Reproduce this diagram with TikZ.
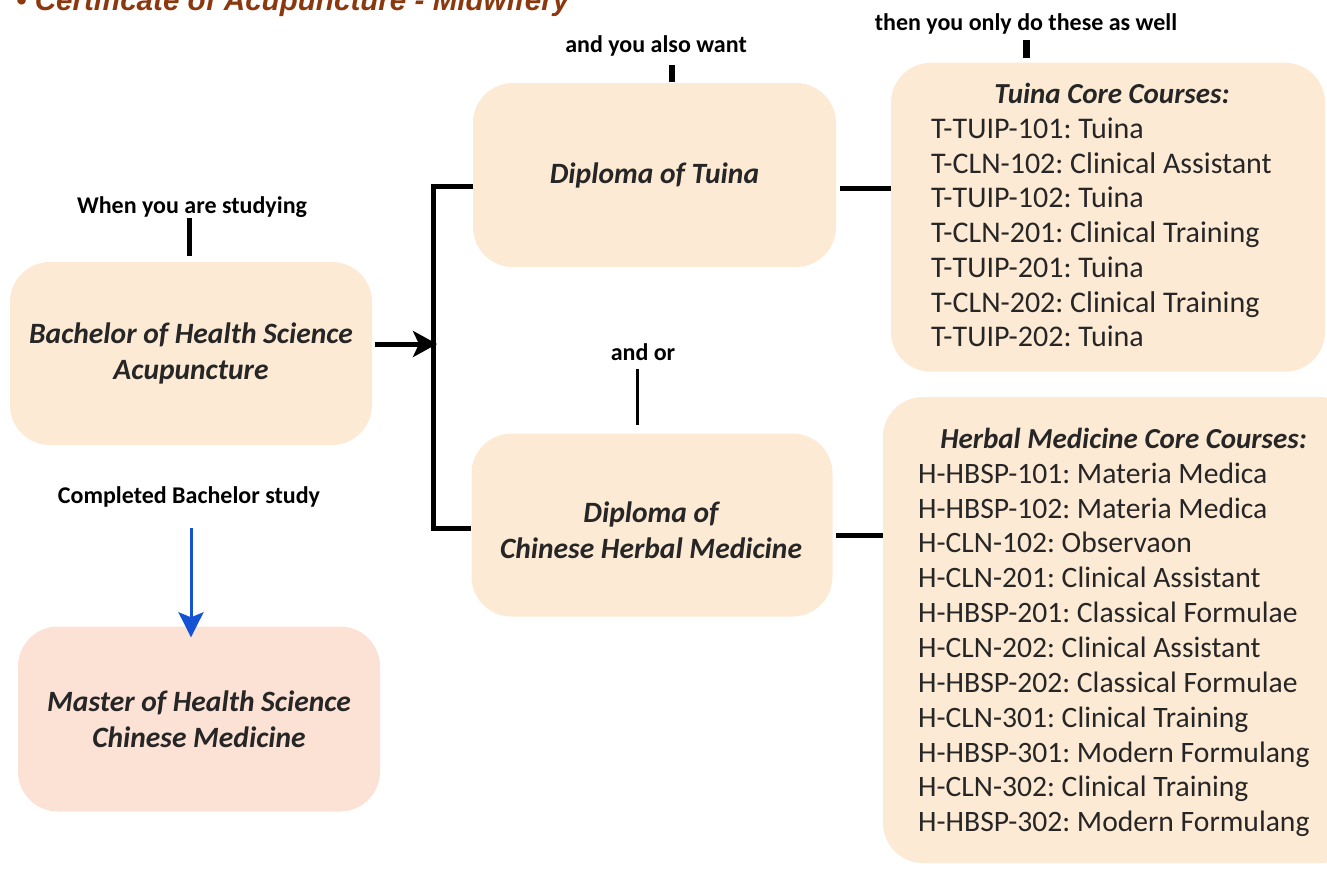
\documentclass[tikz,border=0pt]{standalone}
\usepackage{fontspec}
\setmainfont{Carlito}
\newfontfamily\titlefont{Liberation Sans}
\usetikzlibrary{arrows.meta}
\definecolor{peach}{RGB}{253,234,212}
\definecolor{salmon}{RGB}{252,225,213}
\definecolor{ink}{RGB}{38,38,38}
\definecolor{titlebrown}{RGB}{140,56,14}
\definecolor{arrowblue}{RGB}{21,82,212}
\frenchspacing
\begin{document}
\begin{tikzpicture}[x=1pt,y=-1pt,
  box/.style={fill=peach, draw=none, rounded corners=40pt, inner sep=0pt,
    font=\fontsize{29.5}{36}\selectfont\bfseries\itshape, text=ink, align=center},
  lbl/.style={font=\fontsize{24}{28}\selectfont\bfseries, text=black, anchor=base, inner sep=0pt},
  course/.style={font=\fontsize{30}{35}\selectfont, text=ink, anchor=base west, inner sep=0pt},
  hcourse/.style={course, font=\fontsize{29.6}{35}\selectfont},
  heading/.style={font=\fontsize{29}{35}\selectfont\bfseries\itshape, text=ink, anchor=base, inner sep=0pt},
  bar/.style={line width=5pt, black},
]
\clip (0,0) rectangle (1327,868);

% title
\node[font=\titlefont\fontsize{29.6}{34}\selectfont\bfseries\itshape, text=titlebrown,
  anchor=base west, inner sep=0pt] (title) at (16,10) {• Certificate of Acupuncture - Midwifery};

% boxes
\node[box, minimum width=362pt, minimum height=183pt] (bach) at (191,353.5)
  {Bachelor of Health Science\\Acupuncture};
\node[box, minimum width=363pt, minimum height=184pt] (dtuina) at (654.5,175)
  {Diploma of Tuina};
\node[box, minimum width=361pt, minimum height=183pt] (dherb) at (652,525) {};
\node[font=\fontsize{29.5}{36}\selectfont\bfseries\itshape, text=ink, align=center, inner sep=0pt]
  (dherbtxt) at (651,530) {Diploma of\\Chinese Herbal Medicine};
\node[box, fill=salmon, minimum width=362pt, minimum height=185pt] (master) at (199,719)
  {Master of Health Science\\Chinese Medicine};
\node[box, minimum width=434pt, minimum height=309pt] (tcr) at (1108,217.2) {};
\node[box, minimum width=477pt, minimum height=466pt] (hcr) at (1121.5,630) {};

% course lists
\node[heading] (thead) at (1112,103.5) {Tuina Core Courses:};
\foreach \t [count=\i from 0] in {T-TUIP-101: Tuina, T-CLN-102: Clinical Assistant,
  T-TUIP-102: Tuina, T-CLN-201: Clinical Training, T-TUIP-201: Tuina,
  T-CLN-202: Clinical Training, T-TUIP-202: Tuina}
  \node[course] (tc\i) at (931,138.5+34.7*\i) {\t};

\node[heading] (hhead) at (1123.5,448) {Herbal Medicine Core Courses:};
\foreach \t [count=\i from 0] in {H-HBSP-101: Materia Medica, H-HBSP-102: Materia Medica,
  H-CLN-102: Observaon, H-CLN-201: Clinical Assistant, H-HBSP-201: Classical Formulae,
  H-CLN-202: Clinical Assistant, H-HBSP-202: Classical Formulae, H-CLN-301: Clinical Training,
  H-HBSP-301: Modern Formulang, H-CLN-302: Clinical Training, H-HBSP-302: Modern Formulang}
  \node[hcourse] (hc\i) at (918,483.3+34.84*\i) {\t};

% labels
\node[lbl] (lstudy) at (192,213) {When you are studying};
\node[lbl] (lalso) at (656,52) {and you also want};
\node[lbl] (lthen) at (1026,30.7) {then you only do these as well};
\node[lbl] (landor) at (643,360) {and or};
\node[lbl] (lcomp) at (189,503) {Completed Bachelor study};

% ticks
\coordinate (k1a) at (189,218); \coordinate (k1b) at (189,256);
\coordinate (k2a) at (672,65);  \coordinate (k2b) at (672,82);
\coordinate (k3a) at (1026,40); \coordinate (k3b) at (1026,58);
\coordinate (k4a) at (637,369); \coordinate (k4b) at (637,425);
\draw[line width=5pt] (k1a) -- (k1b);
\draw[line width=6pt] (k2a) -- (k2b);
\draw[line width=7pt] (k3a) -- (k3b);
\draw[line width=3pt] (k4a) -- (k4b);

% bracket and arrow
\coordinate (bt) at (433,186);
\coordinate (bb) at (433,528);
\coordinate (junc) at (437,344);
\draw[bar] (bt -| dtuina.west) -- (bt) -- (bb) -- (bb -| dherb.west);
\draw[bar, -{Stealth[length=24pt, width=26pt, inset=6pt]}] ([xshift=3pt]junc -| bach.east) -- (junc);

% diploma to course boxes
\coordinate (tl) at (0,188);
\coordinate (hl) at (0,535.7);
\draw[bar, shorten <=4pt] (tl -| dtuina.east) -- (tl -| tcr.west);
\draw[bar, shorten <=3pt] (hl -| dherb.east) -- (hl -| hcr.west);

% blue arrow to master
\coordinate (ba) at (191,528);
\draw[line width=3pt, arrowblue, shorten >=-11pt,
  -{Stealth[length=25pt, width=25pt, inset=5pt]}] (ba) -- (ba |- master.north);
\end{tikzpicture}
\end{document}
